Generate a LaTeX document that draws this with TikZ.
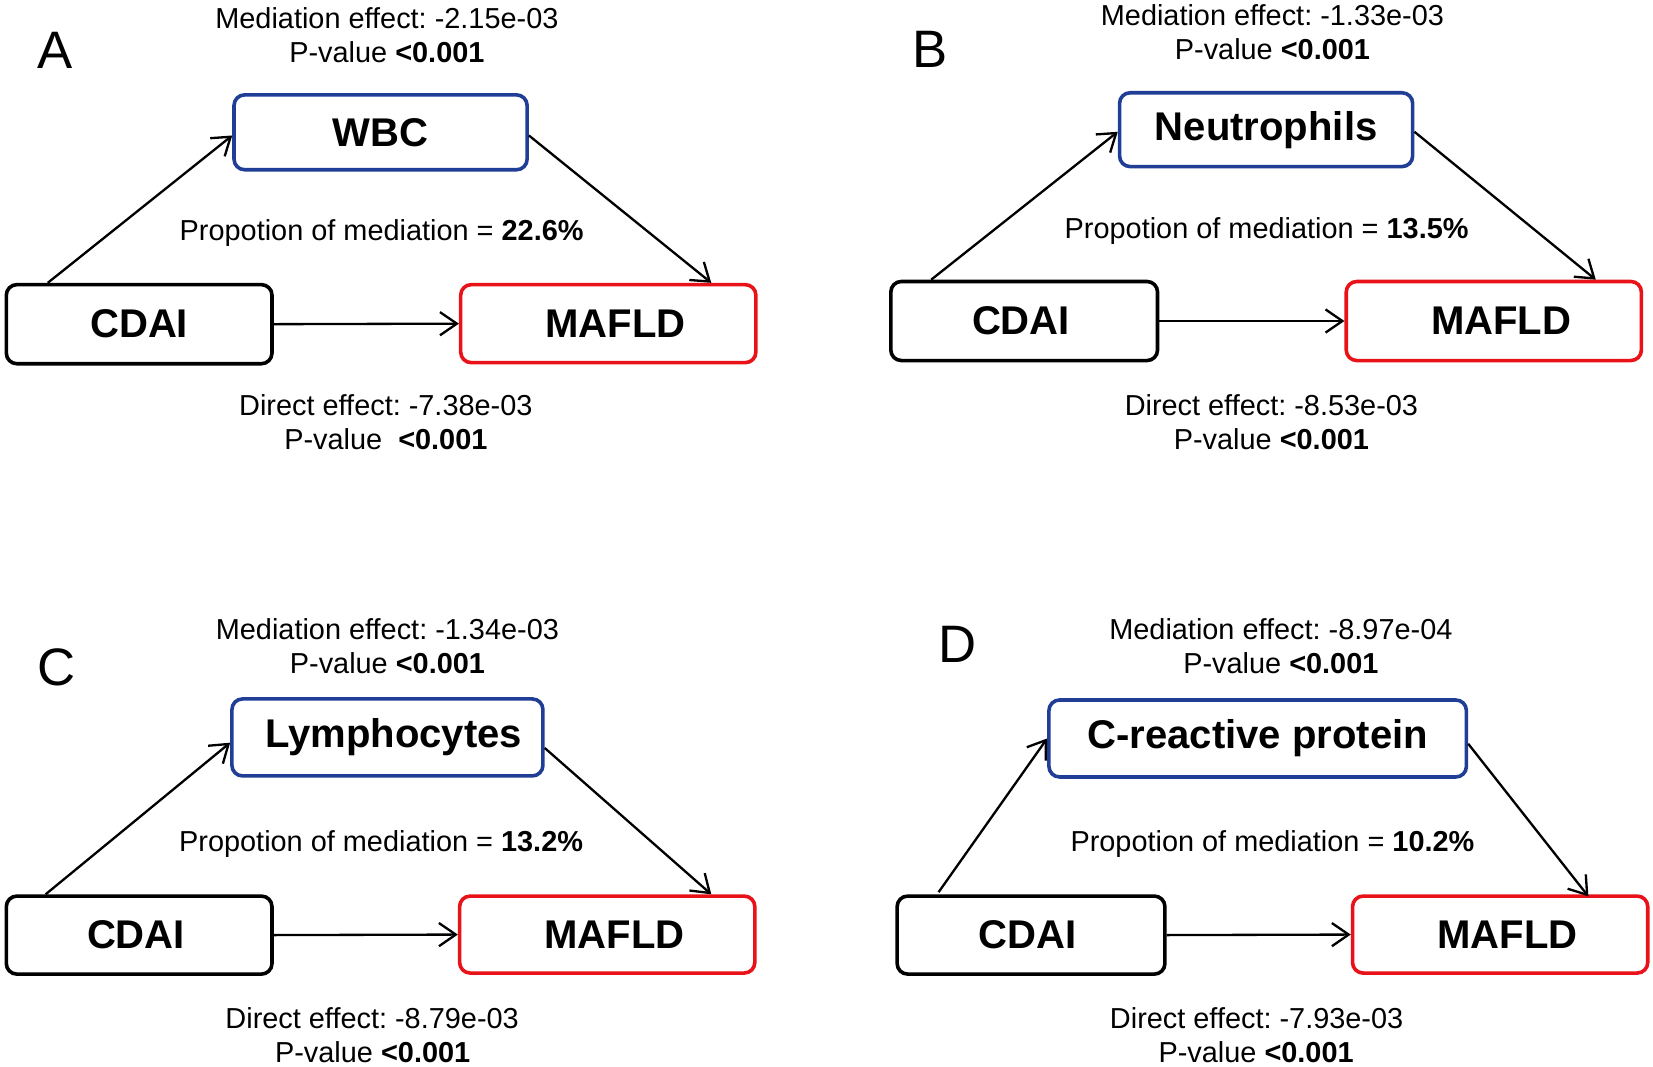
\documentclass[tikz,border=0pt]{standalone}
\usepackage{fontspec}
\setmainfont{Liberation Sans}
\usetikzlibrary{arrows.meta,calc}
\definecolor{boxblue}{RGB}{32,62,150}
\definecolor{boxred}{RGB}{232,18,24}
\frenchspacing
\begin{document}
\begin{tikzpicture}[x=1pt,y=-1pt,
  box/.style={draw, line width=3.4pt, rounded corners=10pt, inner sep=0pt,
    font=\fontsize{38}{40}\selectfont\bfseries},
  medbox/.style={box, draw=boxblue},
  outbox/.style={box, draw=boxred},
  expbox/.style={box, draw=black},
  lbl/.style={anchor=base, inner sep=0pt, font=\fontsize{27.4}{32}\selectfont},
  panel/.style={anchor=base, inner sep=0pt, font=\fontsize{50}{50}\selectfont},
  conn/.style={line width=2.2pt, -{Straight Barb[length=16pt,width=22pt,line width=2.2pt]}}
]
\useasboundingbox[fill=white] (0,0) rectangle (1568,1012);

% ---------------- Panel A ----------------
\node[panel] (letA) at (52,65) {A};
\node[lbl] (medA1) at (367,27) {Mediation effect: -2.15e-03};
\node[lbl] (medA2) at (367,59) {P-value \textbf{<0.001}};
\node[medbox, minimum width=278pt, minimum height=71pt] (medA) at (361,125.5) {WBC};
\node[lbl] (propA) at (362,228) {Propotion of mediation = \textbf{22.6\%}};
\node[expbox, minimum width=252pt, minimum height=75pt] (cdaiA) at (132,307.5) {CDAI};
\node[outbox, minimum width=280pt, minimum height=74pt] (mafA) at (577,307) {\hspace*{14pt}MAFLD};
\node[lbl] (dirA1) at (366,394) {Direct effect: -7.38e-03};
\node[lbl] (dirA2) at (366,426) {P-value~ \textbf{<0.001}};
\draw[conn] ($(cdaiA.north west)+(41,0)$) -- ($(medA.west)+(0,3)$);
\draw[conn] ($(medA.east)+(0,3)$) -- ($(mafA.north east)+(-44,0)$);
\draw[conn] (cdaiA.east) -- (mafA.west);

% ---------------- Panel B ----------------
\node[panel] (letB) at (882,64) {B};
\node[lbl] (medB1) at (1207,24) {Mediation effect: -1.33e-03};
\node[lbl] (medB2) at (1207,56) {P-value \textbf{<0.001}};
\node[medbox, minimum width=278pt, minimum height=70pt] (medB) at (1201,123) {Neutrophils};
\node[lbl] (propB) at (1201.5,226) {Propotion of mediation = \textbf{13.5\%}};
\node[expbox, minimum width=253pt, minimum height=75pt] (cdaiB) at (971.5,304.5) {CDAI\hspace*{6pt}};
\node[outbox, minimum width=280pt, minimum height=75pt] (mafB) at (1417,304.5) {\hspace*{14pt}MAFLD};
\node[lbl] (dirB1) at (1206,394) {Direct effect: -8.53e-03};
\node[lbl] (dirB2) at (1206,426) {P-value \textbf{<0.001}};
\draw[conn] ($(cdaiB.north west)+(40,0)$) -- ($(medB.west)+(0,2)$);
\draw[conn] ($(medB.east)+(0,2)$) -- ($(mafB.north east)+(-45,0)$);
\draw[conn] (cdaiB.east) -- (mafB.west);

% ---------------- Panel C ----------------
\node[panel] (letC) at (54,650) {C};
\node[lbl] (medC1) at (367.5,607) {Mediation effect: -1.34e-03};
\node[lbl] (medC2) at (367.5,639) {P-value \textbf{<0.001}};
\node[medbox, minimum width=295pt, minimum height=73pt] (medC) at (367.5,699.5) {\hspace*{12pt}Lymphocytes};
\node[lbl] (propC) at (361.5,808) {Propotion of mediation = \textbf{13.2\%}};
\node[expbox, minimum width=252pt, minimum height=74pt] (cdaiC) at (132,887) {CDAI\hspace*{6pt}};
\node[outbox, minimum width=280pt, minimum height=73pt] (mafC) at (576,886.5) {\hspace*{14pt}MAFLD};
\node[lbl] (dirC1) at (353,976) {Direct effect: -8.79e-03};
\node[lbl] (dirC2) at (353.5,1008) {P-value \textbf{<0.001}};
\draw[conn] ($(cdaiC.north west)+(39,0)$) -- ($(medC.west)+(0,5)$);
\draw[conn] ($(medC.east)+(0,10)$) -- ($(mafC.north east)+(-43,0)$);
\draw[conn] (cdaiC.east) -- (mafC.west);

% ---------------- Panel D ----------------
\node[panel] (letD) at (908,628) {D};
\node[lbl] (medD1) at (1215,607) {Mediation effect: -8.97e-04};
\node[lbl] (medD2) at (1215,639) {P-value \textbf{<0.001}};
\node[medbox, minimum width=396pt, minimum height=73pt] (medD) at (1193,700.5) {C-reactive protein};
\node[lbl] (propD) at (1207,808) {Propotion of mediation = \textbf{10.2\%}};
\node[expbox, minimum width=254pt, minimum height=74pt] (cdaiD) at (978,887) {CDAI\hspace*{6pt}};
\node[outbox, minimum width=280pt, minimum height=73pt] (mafD) at (1423,886.5) {\hspace*{14pt}MAFLD};
\node[lbl] (dirD1) at (1192,976) {Direct effect: -7.93e-03};
\node[lbl] (dirD2) at (1191.5,1008) {P-value \textbf{<0.001}};
\draw[conn] ($(cdaiD.north west)+(41,-2)$) -- (medD.west);
\draw[conn] ($(medD.east)+(0,5)$) -- ($(mafD.north east)+(-58,2)$);
\draw[conn] (cdaiD.east) -- (mafD.west);
\end{tikzpicture}
\end{document}
